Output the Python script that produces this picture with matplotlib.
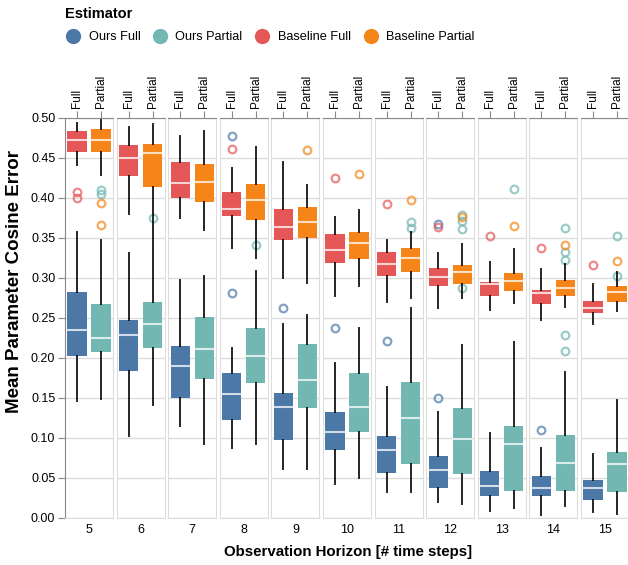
import matplotlib.pyplot as plt
from matplotlib.lines import Line2D

plt.rcParams['font.family'] = ['Liberation Sans', 'DejaVu Sans']

horizons = [5, 6, 7, 8, 9, 10, 11, 12, 13, 14, 15]
estimators = ["Ours Full", "Ours Partial", "Baseline Full", "Baseline Partial"]
colors = ["#4c78a8", "#72b7b2", "#e45756", "#f58518"]
# which column each estimator sits in (0 = Full, 1 = Partial)
column = [0, 1, 0, 1]

# rows: whisker low, q1, median, q3, whisker high
ours_full = [
    [0.146, 0.202, 0.235, 0.282, 0.357],
    [0.103, 0.184, 0.229, 0.248, 0.331],
    [0.115, 0.150, 0.190, 0.215, 0.298],
    [0.087, 0.123, 0.155, 0.181, 0.212],
    [0.061, 0.098, 0.139, 0.156, 0.242],
    [0.043, 0.085, 0.108, 0.132, 0.194],
    [0.033, 0.056, 0.085, 0.103, 0.164],
    [0.020, 0.038, 0.060, 0.078, 0.133],
    [0.009, 0.027, 0.040, 0.059, 0.106],
    [0.004, 0.027, 0.037, 0.053, 0.087],
    [0.007, 0.022, 0.037, 0.048, 0.080],
]
ours_partial = [
    [0.149, 0.207, 0.225, 0.268, 0.348],
    [0.141, 0.212, 0.243, 0.270, 0.342],
    [0.093, 0.174, 0.211, 0.251, 0.303],
    [0.092, 0.169, 0.203, 0.237, 0.309],
    [0.061, 0.137, 0.172, 0.218, 0.254],
    [0.050, 0.107, 0.139, 0.181, 0.238],
    [0.033, 0.068, 0.125, 0.170, 0.263],
    [0.018, 0.055, 0.099, 0.138, 0.216],
    [0.012, 0.034, 0.092, 0.115, 0.220],
    [0.015, 0.034, 0.069, 0.104, 0.183],
    [0.005, 0.032, 0.067, 0.082, 0.147],
]
baseline_full = [
    [0.441, 0.458, 0.473, 0.484, 0.494],
    [0.380, 0.427, 0.450, 0.466, 0.489],
    [0.375, 0.400, 0.419, 0.445, 0.478],
    [0.338, 0.378, 0.386, 0.408, 0.437],
    [0.300, 0.347, 0.364, 0.386, 0.445],
    [0.278, 0.319, 0.335, 0.355, 0.376],
    [0.270, 0.302, 0.318, 0.333, 0.348],
    [0.263, 0.290, 0.301, 0.313, 0.331],
    [0.260, 0.278, 0.292, 0.295, 0.320],
    [0.248, 0.268, 0.281, 0.285, 0.311],
    [0.243, 0.256, 0.263, 0.271, 0.293],
]
baseline_partial = [
    [0.429, 0.457, 0.473, 0.486, 0.498],
    [0.345, 0.414, 0.456, 0.468, 0.493],
    [0.360, 0.395, 0.420, 0.443, 0.484],
    [0.325, 0.373, 0.397, 0.418, 0.464],
    [0.294, 0.350, 0.370, 0.389, 0.416],
    [0.290, 0.324, 0.344, 0.358, 0.385],
    [0.275, 0.307, 0.325, 0.338, 0.358],
    [0.275, 0.293, 0.307, 0.316, 0.342],
    [0.269, 0.284, 0.296, 0.306, 0.336],
    [0.264, 0.278, 0.288, 0.298, 0.318],
    [0.259, 0.270, 0.283, 0.290, 0.307],
]

ours_full_out = [[], [], [], [0.477, 0.281], [0.262], [0.237], [0.221],
                 [0.150, 0.368], [], [0.110], []]
ours_partial_out = [[0.410, 0.405], [0.375], [], [0.341], [], [], [0.370, 0.362],
                    [0.379, 0.371, 0.361, 0.287], [0.411],
                    [0.363, 0.332, 0.323, 0.229, 0.209], [0.353, 0.303]]
baseline_full_out = [[0.408, 0.400], [], [], [0.461], [], [0.425], [0.392],
                     [0.364], [0.353], [0.337], [0.316]]
baseline_partial_out = [[0.394, 0.366], [], [], [], [0.460], [0.430], [0.398],
                        [0.376], [0.365], [0.341], [0.321]]

series = [ours_full, ours_partial, baseline_full, baseline_partial]
outliers = [ours_full_out, ours_partial_out, baseline_full_out, baseline_partial_out]

W, H = 628, 565
fig = plt.figure(figsize=(W / 100, H / 100), dpi=100)

left0, step, fw = 65, 51.6, 48
top_px, bot_px = 118, 518

for i, h in enumerate(horizons):
    ax = fig.add_axes([(left0 + i * step) / W, (H - bot_px) / H, fw / W, (bot_px - top_px) / H])
    for s, (data, outs) in enumerate(zip(series, outliers)):
        lo, q1, med, q3, hi = data[i]
        stats = [dict(whislo=lo, q1=q1, med=med, q3=q3, whishi=hi, fliers=outs[i])]
        ax.bxp(stats, positions=[column[s]], widths=0.8, patch_artist=True,
               showcaps=False,
               boxprops=dict(facecolor=colors[s], edgecolor='none', linewidth=0),
               medianprops=dict(color='white', alpha=0.75, linewidth=1.5),
               whiskerprops=dict(color='black', linewidth=1.4, alpha=0.85),
               flierprops=dict(marker='o', markerfacecolor='none', markeredgecolor=colors[s],
                               markeredgewidth=1.6, markersize=5.5, alpha=0.7),
               zorder=3)
    ax.set_xlim(-0.5, 1.5)
    ax.set_ylim(0, 0.5)
    ax.set_yticks([k * 0.05 for k in range(11)])
    ax.grid(axis='y', color='#dddddd', linewidth=1, zorder=0)
    ax.set_axisbelow(True)
    ax.xaxis.tick_top()
    ax.set_xticks([0, 1])
    ax.set_xticklabels(["Full", "Partial"], rotation=90, fontsize=8.5)
    ax.tick_params(axis='x', length=5, color='#888888', pad=2)
    for side in ['left', 'right', 'bottom']:
        ax.spines[side].set_color('#dddddd')
    ax.spines['top'].set_color('#888888')
    if i == 0:
        ax.set_yticklabels([f"{k * 0.05:.2f}" for k in range(11)], fontsize=9)
        ax.tick_params(axis='y', length=5, color='#888888', pad=2)
        ax.spines['left'].set_color('#888888')
    else:
        ax.tick_params(axis='y', length=0, labelleft=False)
    fig.text((left0 + i * step + fw / 2) / W, 1 - 530 / H, str(h), ha='center', va='center',
             fontsize=9)

fig.text(15 / W, 1 - 281 / H, "Mean Parameter Cosine Error", rotation=90,
         ha='center', va='center', fontsize=13.5, fontweight='bold')
fig.text(348 / W, 1 - 552 / H, "Observation Horizon [# time steps]",
         ha='center', va='center', fontsize=10.8, fontweight='bold')

handles = [Line2D([], [], marker='o', linestyle='none', markersize=11, markerfacecolor=c,
                  markeredgecolor='none') for c in colors]
fig.legend(handles, estimators, loc='upper left', bbox_to_anchor=(56 / W, 1 + 2 / H),
           ncol=4, frameon=False, title="Estimator", alignment='left',
           title_fontproperties=dict(weight='bold', size=10.5), fontsize=9.2,
           handletextpad=0.55, columnspacing=0.9, handlelength=1.3, borderpad=0.2,
           labelspacing=0.8)

fig.savefig("out.png", dpi=100)
